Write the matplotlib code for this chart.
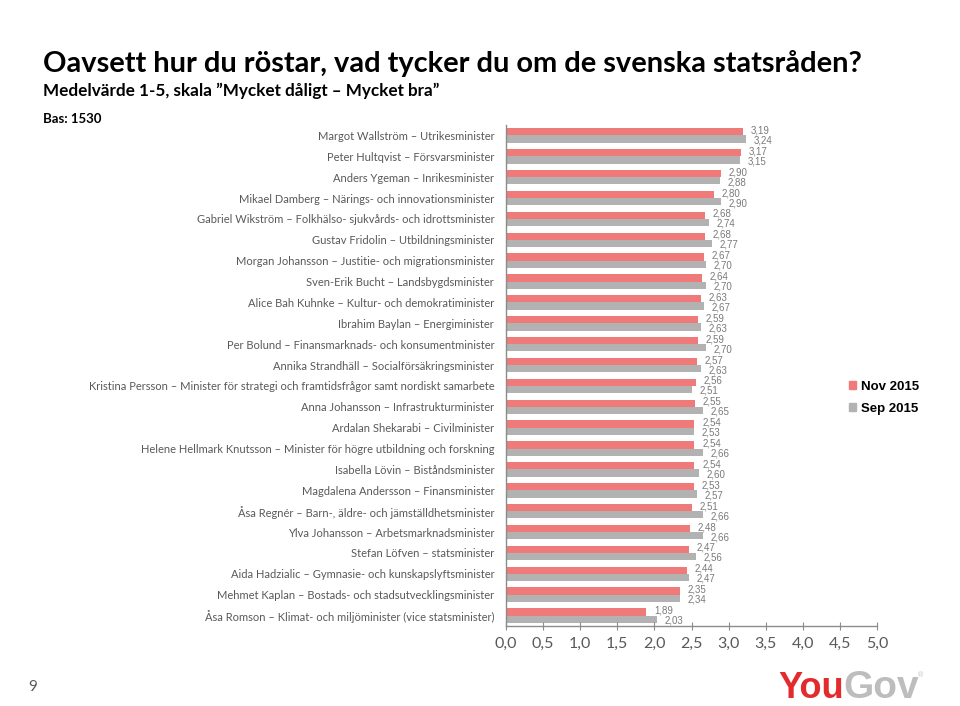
import matplotlib
matplotlib.use("Agg")
import matplotlib.pyplot as plt
import numpy as np
from matplotlib.patches import Patch

names = [
    "Margot Wallström – Utrikesminister",
    "Peter Hultqvist – Försvarsminister",
    "Anders Ygeman – Inrikesminister",
    "Mikael Damberg – Närings- och innovationsminister",
    "Gabriel Wikström – Folkhälso- sjukvårds- och idrottsminister",
    "Gustav Fridolin – Utbildningsminister",
    "Morgan Johansson – Justitie- och migrationsminister",
    "Sven-Erik Bucht – Landsbygdsminister",
    "Alice Bah Kuhnke – Kultur- och demokratiminister",
    "Ibrahim Baylan – Energiminister",
    "Per Bolund – Finansmarknads- och konsumentminister",
    "Annika Strandhäll – Socialförsäkringsminister",
    "Kristina Persson – Minister för strategi och framtidsfrågor samt nordiskt samarbete",
    "Anna Johansson – Infrastrukturminister",
    "Ardalan Shekarabi – Civilminister",
    "Helene Hellmark Knutsson – Minister för högre utbildning och forskning",
    "Isabella Lövin – Biståndsminister",
    "Magdalena Andersson – Finansminister",
    "Åsa Regnér – Barn-, äldre- och jämställdhetsminister",
    "Ylva Johansson – Arbetsmarknadsminister",
    "Stefan Löfven – statsminister",
    "Aida Hadzialic – Gymnasie- och kunskapslyftsminister",
    "Mehmet Kaplan – Bostads- och stadsutvecklingsminister",
    "Åsa Romson – Klimat- och miljöminister (vice statsminister)",
]
nov_2015 = [3.19, 3.17, 2.90, 2.80, 2.68, 2.68, 2.67, 2.64, 2.63, 2.59, 2.59, 2.57,
            2.56, 2.55, 2.54, 2.54, 2.54, 2.53, 2.51, 2.48, 2.47, 2.44, 2.35, 1.89]
sep_2015 = [3.24, 3.15, 2.88, 2.90, 2.74, 2.77, 2.70, 2.70, 2.67, 2.63, 2.70, 2.63,
            2.51, 2.65, 2.53, 2.66, 2.60, 2.57, 2.66, 2.66, 2.56, 2.47, 2.34, 2.03]
series_labels = ["Nov 2015", "Sep 2015"]
x_ticks = [0.0, 0.5, 1.0, 1.5, 2.0, 2.5, 3.0, 3.5, 4.0, 4.5, 5.0]

RED = "#F07A7A"
GRAY = "#B2B2B2"
TXT = "#595959"
CAL = ["Lato", "DejaVu Sans"]
ARI = ["Liberation Sans", "DejaVu Sans"]

fig = plt.figure(figsize=(9.6, 7.06), dpi=100)
W, H = 960, 706
ax = fig.add_axes([506 / W, 1 - 626 / H, 371 / W, 501 / H])

y = np.arange(len(names))
bh = 0.35
b1 = ax.barh(y - bh / 2, nov_2015, height=bh, color=RED, label=series_labels[0])
b2 = ax.barh(y + bh / 2, sep_2015, height=bh, color=GRAY, label=series_labels[1])

for bars, vals, dy in ((b1, nov_2015, 1), (b2, sep_2015, -1)):
    for rect, v in zip(bars, vals):
        ax.annotate(f"{v:.2f}".replace(".", ","),
                    xy=(rect.get_width(), rect.get_y() + rect.get_height() / 2),
                    xytext=(5.5, dy), textcoords="offset points",
                    ha="left", va="center", fontsize=7, color="#7a7a7a",
                    family=ARI)

ax.set_xlim(0, 5)
ax.set_ylim(len(names) - 0.5, -0.5)
ax.set_yticks(y)
ax.set_yticklabels(names, family=CAL, fontsize=8, color=TXT)
ax.tick_params(axis="y", length=0, pad=8.5)
ax.set_xticks(x_ticks)
ax.set_xticklabels([f"{t:.1f}".replace(".", ",") for t in x_ticks],
                   family=CAL, fontsize=11.5, color=TXT)
ax.tick_params(axis="x", direction="inout", length=6, color="#8c8c8c", pad=5)
for s in ("top", "right"):
    ax.spines[s].set_visible(False)
for s in ("left", "bottom"):
    ax.spines[s].set_color("#8c8c8c")
    ax.spines[s].set_linewidth(1.0)

leg = fig.legend(handles=[Patch(color=RED), Patch(color=GRAY)], labels=series_labels,
                 loc="upper left", bbox_to_anchor=(837 / W, 1 - 369 / H),
                 frameon=False, handlelength=0.55, handleheight=0.55,
                 handletextpad=0.35, labelspacing=0.75,
                 prop={"family": ARI, "weight": "bold", "size": 9.5})

fig.text(43 / W, 1 - 72 / H, "Oavsett hur du röstar, vad tycker du om de svenska statsråden?",
         family=CAL, weight="bold", fontsize=20.9, color="black", va="baseline", ha="left")
fig.text(43 / W, 1 - 96 / H, "Medelvärde 1-5, skala ”Mycket dåligt – Mycket bra”",
         family=CAL, weight="bold", fontsize=12.3, color="black", va="baseline", ha="left")
fig.text(43 / W, 1 - 123 / H, "Bas: 1530",
         family=CAL, weight="bold", fontsize=9.5, color="black", va="baseline", ha="left")
fig.text(33 / W, 1 - 687 / H, "9", family=CAL, fontsize=11, color=TXT,
         va="center", ha="center")

logo = ["Liberation Sans", "DejaVu Sans"]
fig.text(844 / W, 1 - 688 / H, "You", family=logo, weight="bold", fontsize=26,
         color="#E32B2E", va="center", ha="right")
fig.text(843 / W, 1 - 688 / H, "Gov", family=logo, weight="bold", fontsize=28,
         color="#BDBDBD", va="center", ha="left")
fig.text(918 / W, 1 - 676 / H, "®", family=ARI, fontsize=5, color="#BDBDBD",
         va="center", ha="left")

fig.savefig("out.png", dpi=100)
